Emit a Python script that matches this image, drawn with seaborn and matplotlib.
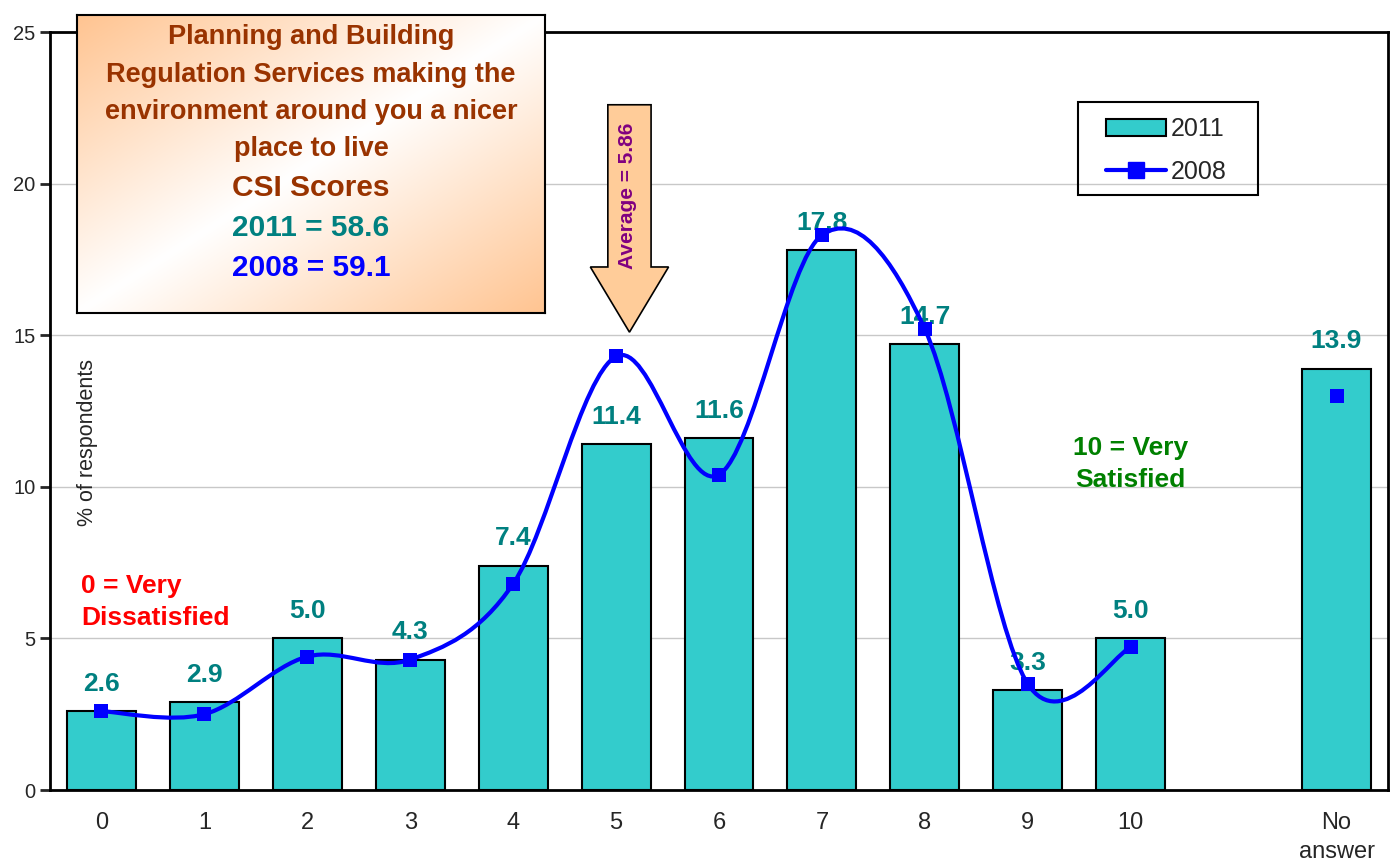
"""
Planning and Building Regulation Services - satisfaction scores 2011 vs 2008
"""

import numpy as np
import matplotlib
matplotlib.use("Agg")
import matplotlib.pyplot as plt
from matplotlib.path import Path
from matplotlib.patches import PathPatch, Polygon, Patch, Rectangle
from matplotlib.lines import Line2D
import seaborn as sns

# Data
score_labels = ["0", "1", "2", "3", "4", "5", "6", "7", "8", "9", "10", "", "No\nanswer"]
bar_pos = [0, 1, 2, 3, 4, 5, 6, 7, 8, 9, 10, 12]
pct_2011 = [2.6, 2.9, 5.0, 4.3, 7.4, 11.4, 11.6, 17.8, 14.7, 3.3, 5.0, 13.9]
pct_2008 = [2.6, 2.5, 4.4, 4.3, 6.8, 14.3, 10.4, 18.3, 15.2, 3.5, 4.7, 13.0]
average_score = 5.86
csi_2011 = 58.6
csi_2008 = 59.1

# Colours
BAR = "#33CCCC"
TEAL = "#008080"
BLUE = "#0000FF"
BROWN = "#993300"
PEACH = "#FFCC99"

sns.set_style("white")
plt.rcParams["font.family"] = ["Liberation Sans", "DejaVu Sans"]

fig = plt.figure(figsize=(13.95, 8.65), dpi=100)
ax = fig.add_axes([50 / 1395, 75 / 865, 1338 / 1395, 758 / 865])

# 2011 bars
sns.barplot(x=bar_pos, y=pct_2011, native_scale=True, width=0.67, color=BAR,
            saturation=1, edgecolor="black", linewidth=1.5, ax=ax, zorder=2)
ax.bar_label(ax.containers[0], fmt="%.1f", padding=11, color=TEAL,
             fontsize=19, fontweight="bold", zorder=2.5)


def smooth_path(xs, ys):
    """Catmull-Rom style bezier path through the points (like Excel smoothing)"""
    pts = np.column_stack([xs, ys]).astype(float)
    verts = [pts[0]]
    codes = [Path.MOVETO]
    n = len(pts)
    for i in range(n - 1):
        p0 = pts[max(i - 1, 0)]
        p1 = pts[i]
        p2 = pts[i + 1]
        p3 = pts[min(i + 2, n - 1)]
        verts += [p1 + (p2 - p0) / 6, p2 - (p3 - p1) / 6, p2]
        codes += [Path.CURVE4] * 3
    return Path(verts, codes)


# 2008 smoothed line (scores 0-10 only) + markers
line_x = bar_pos[:11]
line_y = pct_2008[:11]
ax.add_patch(PathPatch(smooth_path(line_x, line_y), fill=False,
                       edgecolor=BLUE, lw=3, zorder=3, capstyle="round"))
sns.scatterplot(x=bar_pos, y=pct_2008, marker="s", s=115, color=BLUE,
                edgecolor=BLUE, linewidth=0, ax=ax, zorder=4)

# Axes styling
ax.set_xlim(-0.5, 12.5)
ax.set_ylim(0, 25)
ax.set_yticks([0, 5, 10, 15, 20, 25])
ax.set_xticks(range(len(score_labels)))
ax.set_xticklabels(score_labels, fontsize=17, linespacing=1.4)
ax.set_xticks(np.arange(-0.5, 13, 1), minor=True)
ax.tick_params(axis="x", which="major", length=0, pad=16)
ax.tick_params(axis="x", which="minor", length=7, width=2, direction="out")
ax.tick_params(axis="y", labelsize=14.5, length=7, width=2, direction="out", left=True)
ax.yaxis.grid(True, color="#C8C8C8", lw=1)
ax.set_axisbelow(True)
for side in ["left", "bottom", "top", "right"]:
    ax.spines[side].set_color("black")
    ax.spines[side].set_linewidth(2)
ax.set_xlabel("")
ax.set_ylabel("")
ax.text(0.028, 0.458, "% of respondents", transform=ax.transAxes, rotation=90,
        ha="center", va="center", fontsize=15.5)

# end labels
ax.text(-0.2, 6.2, "0 = Very\nDissatisfied", color="#FF0000", fontsize=19,
        fontweight="bold", ha="left", va="center", linespacing=1.4)
ax.text(10.0, 10.75, "10 = Very\nSatisfied", color="#008000", fontsize=19,
        fontweight="bold", ha="center", va="center", linespacing=1.4)

# average arrow
ac = 5.13
shaft_hw, head_hw = 0.21, 0.38
y_top, y_head, y_tip = 22.6, 17.25, 15.1
arrow = Polygon([[ac - shaft_hw, y_top], [ac + shaft_hw, y_top], [ac + shaft_hw, y_head],
                 [ac + head_hw, y_head], [ac, y_tip], [ac - head_hw, y_head],
                 [ac - shaft_hw, y_head]], closed=True, facecolor=PEACH,
                edgecolor="black", lw=1.2, zorder=5)
ax.add_patch(arrow)
ax.text(ac - 0.02, 19.6, f"Average = {average_score}", rotation=90, color="#800080",
        fontsize=15, fontweight="bold", ha="center", va="center", zorder=6)

# legend (frame drawn separately to get Excel-like padding)
handles = [
    Patch(facecolor=BAR, edgecolor="black", lw=1.5, label="2011"),
    Line2D([], [], color=BLUE, lw=3, marker="s", markersize=11, label="2008"),
]
fig.legend(handles=handles, loc="upper left",
           bbox_to_anchor=(1106 / 1395, 1 - 117 / 865), frameon=False,
           fontsize=18, handlelength=2.4, handletextpad=0.2,
           borderpad=0, labelspacing=0.75, borderaxespad=0)
fig.patches.append(Rectangle((1078 / 1395, 1 - 195 / 865), 180 / 1395, 93 / 865,
                             transform=fig.transFigure, fill=False,
                             edgecolor="black", lw=1.5, zorder=5))

# gradient title box
box = fig.add_axes([77 / 1395, 1 - 313 / 865, 468 / 1395, 298 / 865], zorder=10)
u = np.linspace(0, 1, 300)[None, :]
v = np.linspace(0, 1, 200)[:, None]
t = np.abs(u + v - 1)
peach = np.array([255, 196, 145]) / 255
grad = 1 - t[..., None] * (1 - peach)
box.imshow(grad, extent=[0, 1, 0, 1], aspect="auto")
box.set_xticks([])
box.set_yticks([])
for s in box.spines.values():
    s.set_color("black")
    s.set_linewidth(1.5)

title_lines = ["Planning and Building", "Regulation Services making the",
               "environment around you a nicer", "place to live"]
for i, line in enumerate(title_lines):
    box.text(0.5, 1 - (37 + 37.5 * i - 15) / 298, line, transform=box.transAxes,
             ha="center", va="center", fontsize=19.5, fontweight="bold", color=BROWN)
box.text(0.5, 1 - (188 - 15) / 298, "CSI Scores", transform=box.transAxes,
         ha="center", va="center", fontsize=21.5, fontweight="bold", color=BROWN)
box.text(0.5, 1 - (228 - 15) / 298, f"2011 = {csi_2011}", transform=box.transAxes,
         ha="center", va="center", fontsize=21.5, fontweight="bold", color=TEAL)
box.text(0.5, 1 - (268 - 15) / 298, f"2008 = {csi_2008}", transform=box.transAxes,
         ha="center", va="center", fontsize=21.5, fontweight="bold", color=BLUE)

plt.savefig("out.png", dpi=100)
plt.close()
